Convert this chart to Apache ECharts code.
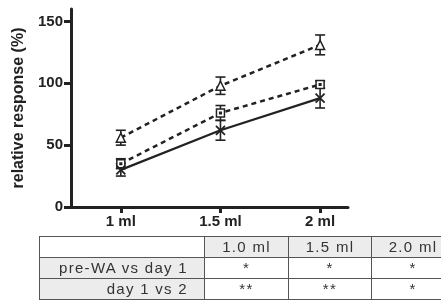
<!DOCTYPE html>
<html>
<head>
<meta charset="utf-8">
<script src="https://cdn.jsdelivr.net/npm/echarts@6/dist/echarts.min.js"></script>
<style>
  body { margin: 0; background: #fff; }
  #wrap { position: relative; width: 441px; height: 303px; overflow: hidden; }
  #chart { position: absolute; left: 0; top: 0; width: 441px; height: 303px; }
  table.stats {
    position: absolute; left: 39px; top: 236px;
    border-collapse: collapse; table-layout: fixed;
    font-family: Arial, "Liberation Sans", sans-serif; font-size: 15px;
    letter-spacing: 1.3px; color: #333;
  }
  table.stats td {
    border: 1.5px solid #555; height: 20px; padding: 0; line-height: 20px;
    text-align: center; background: #fff;
  }
  table.stats td.g { background: #ececec; }
  table.stats td.lab { text-align: right; padding-right: 16px; }
</style>
</head>
<body>
<div id="wrap">
  <div id="chart"></div>
  <table class="stats" id="tbl"></table>
</div>
<script>
// 剂量 (x)
var doses = [1, 1.5, 2];
// 三条曲线：均值 + 误差
var triMean = [56, 98, 131];
var triErr = [6, 7, 8];
var sqMean = [35, 76, 99];
var sqErr = [4, 6, 3];
var xMean = [30, 62, 88];
var xErr = [5, 8, 8];
var yTicks = [0, 50, 100, 150];
// 表格
var tblCols = ["1.0 ml", "1.5 ml", "2.0 ml"];
var tblRows = ["pre-WA vs day 1", "day 1 vs 2"];
var tblVals = [["*", "*", "*"], ["**", "**", "*"]];

var chartDom = echarts.init(document.getElementById("chart"));

function pts(mean) {
  return doses.map(function (d, i) { return [d, mean[i]]; });
}
function errPts(mean, err) {
  return doses.map(function (d, i) { return [d, mean[i] - err[i], mean[i] + err[i]]; });
}

function errorBar(params, api) {
  var lo = api.coord([api.value(0), api.value(1)]);
  var hi = api.coord([api.value(0), api.value(2)]);
  var w = 5;
  var style = { stroke: "#222", lineWidth: 1.6 };
  return {
    type: "group",
    children: [
      { type: "line", shape: { x1: lo[0], y1: lo[1], x2: hi[0], y2: hi[1] }, style: style },
      { type: "line", shape: { x1: lo[0] - w, y1: lo[1], x2: lo[0] + w, y2: lo[1] }, style: style },
      { type: "line", shape: { x1: hi[0] - w, y1: hi[1], x2: hi[0] + w, y2: hi[1] }, style: style }
    ]
  };
}

var axisFont = { fontFamily: "Arial, Liberation Sans", fontWeight: "bold", fontSize: 15, color: "#222" };

var option = {
  animation: false,
  grid: { left: 71, right: 93, top: 9, bottom: 96 },
  xAxis: {
    type: "value",
    min: 0.75,
    max: 2.14,
    splitLine: { show: false },
    axisLine: { lineStyle: { color: "#222", width: 3 } },
    axisTick: { customValues: doses, length: 6, lineStyle: { color: "#222", width: 3 } },
    axisLabel: Object.assign({
      customValues: doses,
      margin: 7,
      formatter: function (v) { return v + " ml"; }
    }, axisFont)
  },
  yAxis: {
    type: "value",
    min: 0,
    max: 160,
    name: "relative response (%)",
    nameLocation: "middle",
    nameGap: 43,
    nameTextStyle: { fontFamily: "Arial, Liberation Sans", fontWeight: "bold", fontSize: 16, color: "#222" },
    splitLine: { show: false },
    axisLine: { show: true, lineStyle: { color: "#222", width: 3 } },
    axisTick: { show: true, customValues: yTicks, length: 7, lineStyle: { color: "#222", width: 3 } },
    axisLabel: Object.assign({ customValues: yTicks, margin: 8 }, axisFont)
  },
  series: [
    {
      type: "custom", renderItem: errorBar, data: errPts(triMean, triErr), z: 1
    },
    {
      type: "custom", renderItem: errorBar, data: errPts(sqMean, sqErr), z: 1
    },
    {
      type: "custom", renderItem: errorBar, data: errPts(xMean, xErr), z: 1
    },
    {
      type: "line", data: pts(triMean), z: 2,
      lineStyle: { color: "#222", width: 2.5, type: [5, 4] },
      symbol: "triangle", symbolSize: [9, 9],
      itemStyle: { color: "#fff", borderColor: "#222", borderWidth: 1.5 }
    },
    {
      type: "line", data: pts(sqMean), z: 2,
      lineStyle: { color: "#222", width: 2.5, type: [5, 4] },
      symbol: "path://M0,0H10V10H0Z M4,4H6V6H4Z", symbolSize: [8, 8],
      itemStyle: { color: "#fff", borderColor: "#222", borderWidth: 1.5 }
    },
    {
      type: "line", data: pts(xMean), z: 2,
      lineStyle: { color: "#222", width: 2.2 },
      symbol: "path://M0,0L10,10M10,0L0,10", symbolSize: [9, 9],
      itemStyle: { color: "none", borderColor: "#222", borderWidth: 1.8 }
    }
  ]
};
chartDom.setOption(option);

// 表格
var colW = [165, 84, 83, 83];
var html = "<colgroup>" + colW.map(function (w) { return '<col style="width:' + w + 'px">'; }).join("") + "</colgroup>";
html += "<tr><td></td>" + tblCols.map(function (c) { return '<td class="g">' + c + "</td>"; }).join("") + "</tr>";
tblRows.forEach(function (r, i) {
  html += '<tr><td class="g lab">' + r + "</td>" + tblVals[i].map(function (v) { return "<td>" + v + "</td>"; }).join("") + "</tr>";
});
var tbl = document.getElementById("tbl");
tbl.innerHTML = html;
tbl.style.width = colW.reduce(function (a, b) { return a + b; }, 0) + "px";
</script>
</body>
</html>
